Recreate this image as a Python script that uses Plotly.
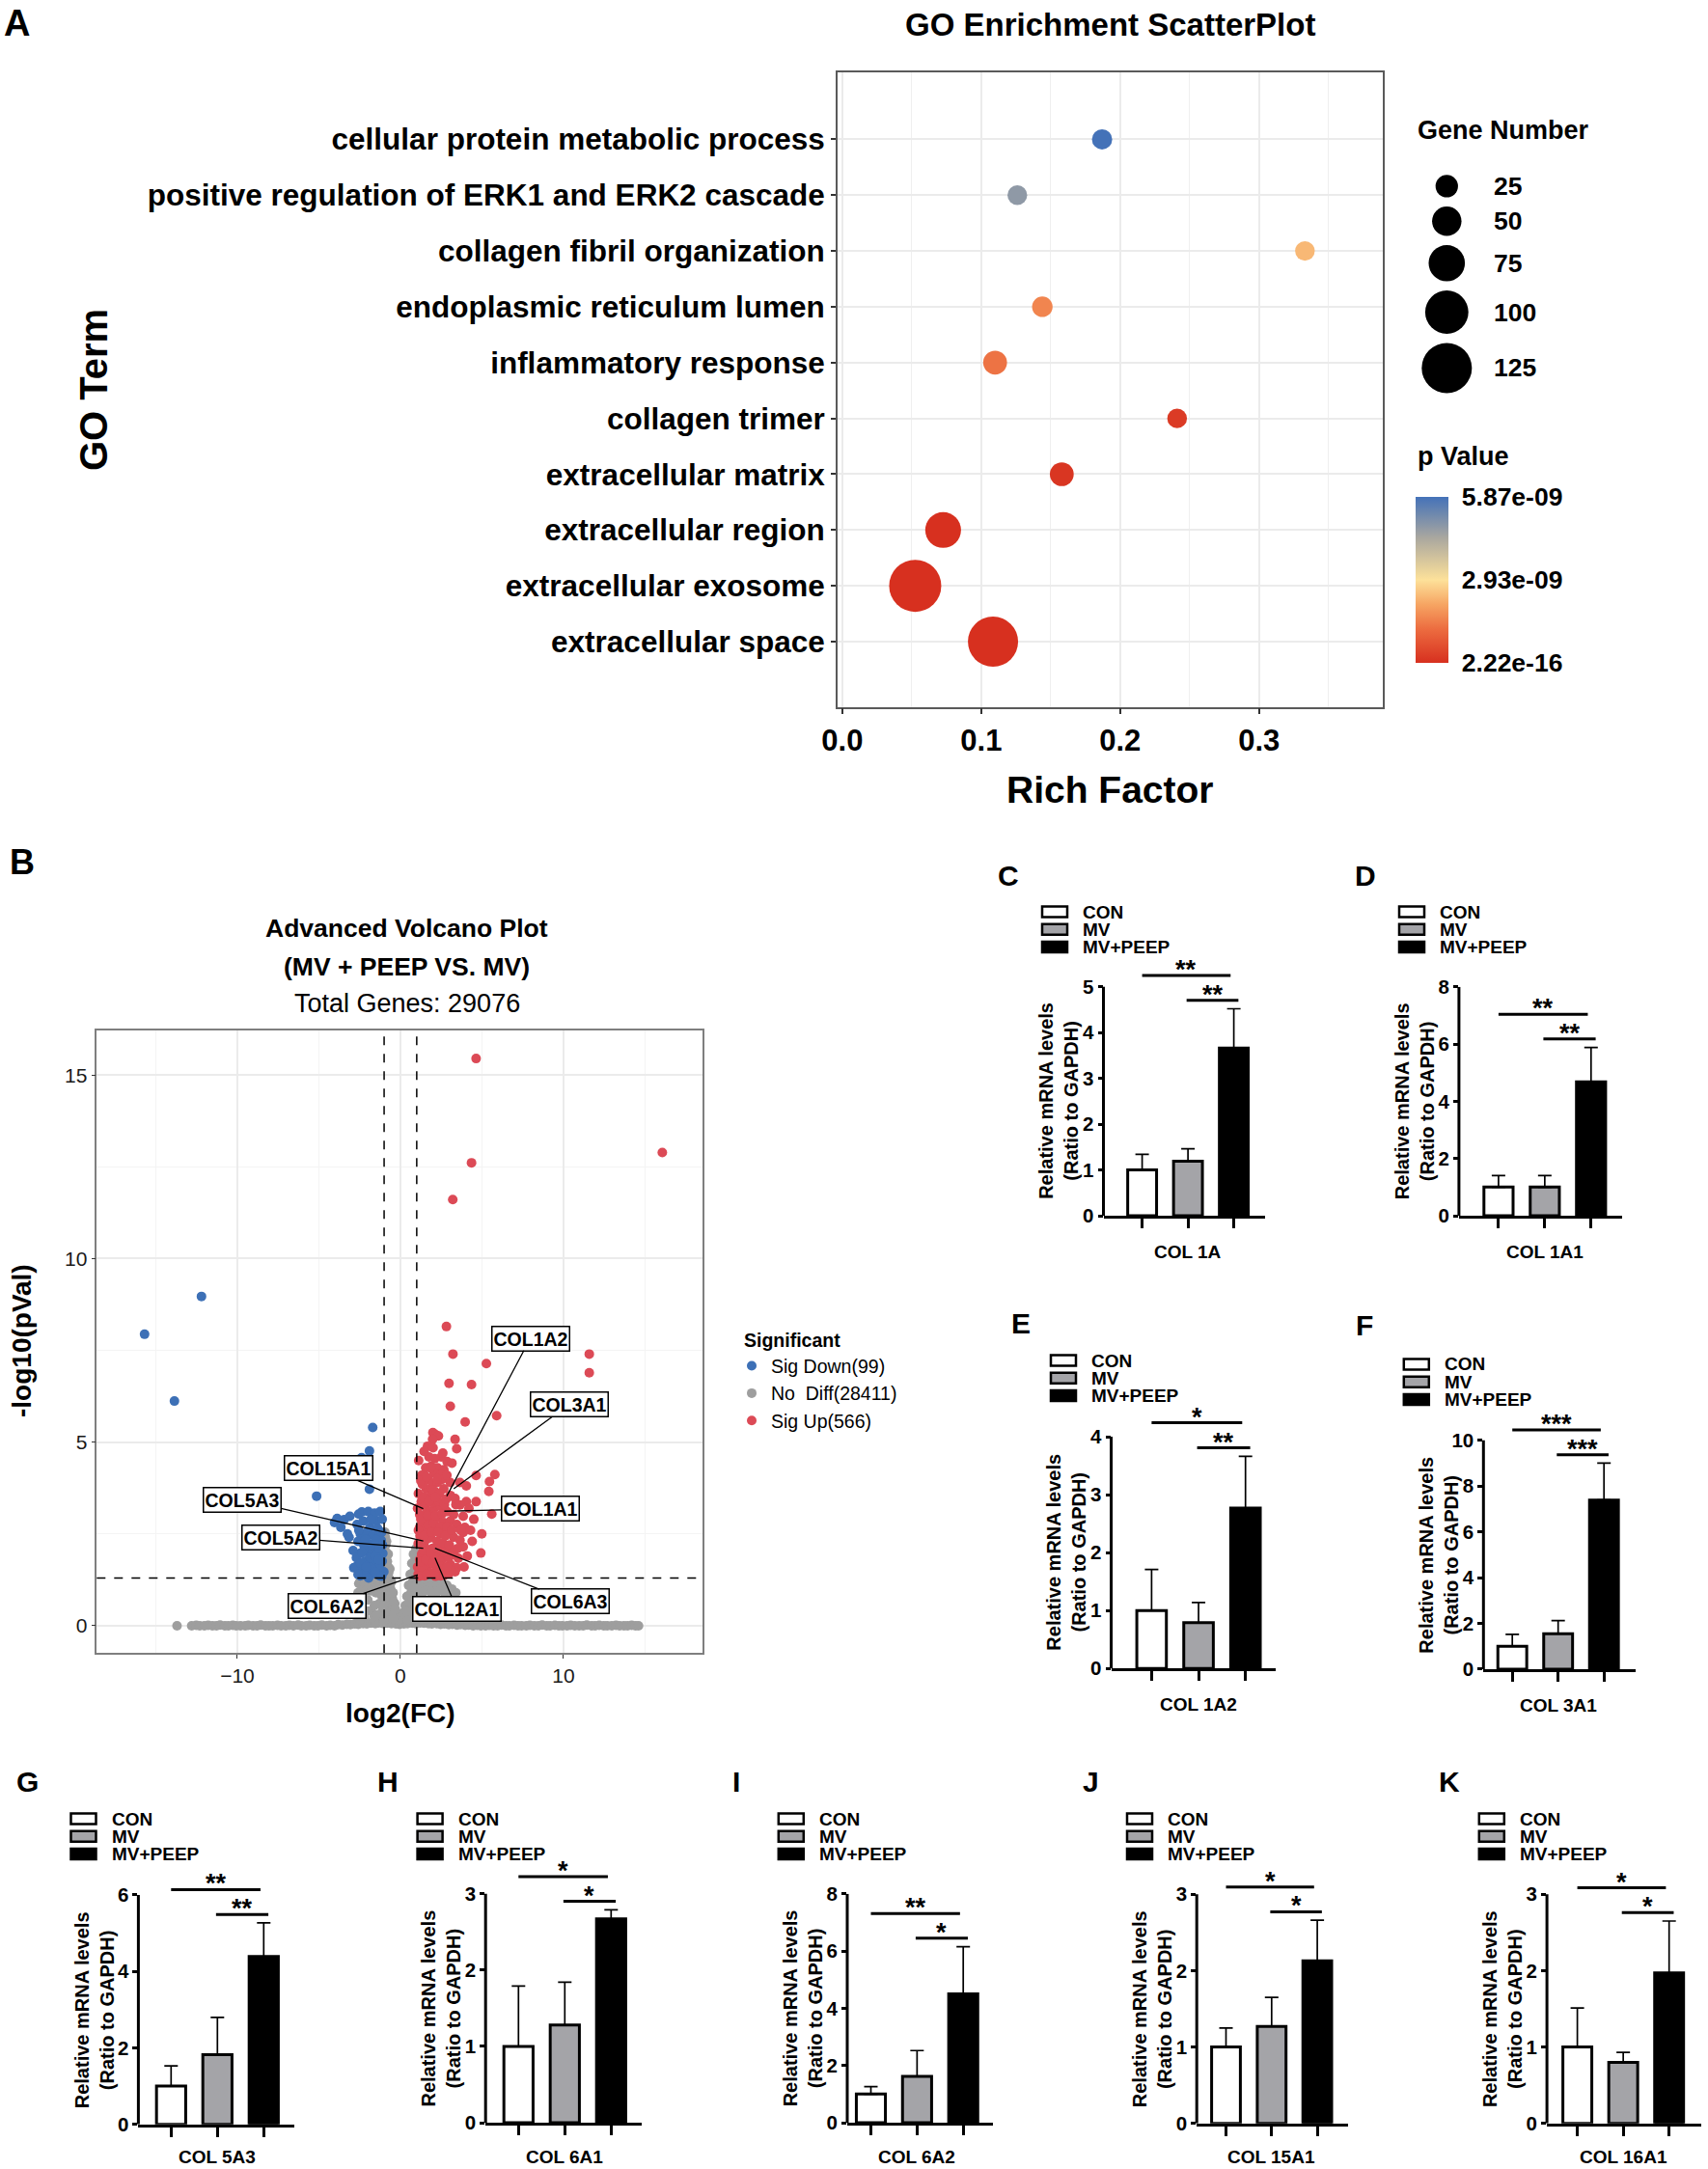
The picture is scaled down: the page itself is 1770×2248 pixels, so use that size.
import plotly.graph_objects as go

# ======================= DATA =======================
# ---- Panel A : GO enrichment ----
go_terms = ["cellular protein metabolic process",
            "positive regulation of ERK1 and ERK2 cascade",
            "collagen fibril organization",
            "endoplasmic reticulum lumen",
            "inflammatory response",
            "collagen trimer",
            "extracellular matrix",
            "extracellular region",
            "extracellular exosome",
            "extracellular space"]
rich_factor = [0.187, 0.126, 0.333, 0.144, 0.110, 0.241, 0.158, 0.0726, 0.0525, 0.1085]
gene_number = [17, 15, 15, 18, 30, 15, 30, 73, 132, 125]
p_value = [5.87e-09, 4.8e-09, 2.35e-09, 1.58e-09, 1.29e-09, 2.1e-10, 1.2e-10, 3.5e-12, 2.22e-16, 4.6e-14]
size_breaks = [25, 50, 75, 100, 125]
p_tickvals = [2.22e-16, 2.93e-09, 5.87e-09]
p_ticktext = ["2.22e-16", "2.93e-09", "5.87e-09"]

# ---- Panel B : volcano ----
total_genes = 29076
n_down, n_nodiff, n_up = 99, 28411, 566
fc_cut = 1.0
p_cut = 1.301
down_x = [-15.69, -13.86, -12.2, -1.7, -1.9, -2.38, -1.9, -5.14,
          -2.56, -2.37, -1.97, -1.58, -1.24, -3.88, -3.45, -3.1, -4.04, -3.65, -3.25, -3.15,
          -2.66, -2.27, -1.87, -1.48, -1.12, -2.46, -2.07, -1.68, -1.28, -1.97, -1.58, -1.18,
          -2.46, -2.07, -1.68, -1.38, -1.08, -2.66, -2.17, -1.77, -1.48, -1.12,
          -2.46, -2.07, -1.68, -1.28, -1.02, -2.86, -2.3, -1.9, -1.3, -2.25, -1.4, -1.85,
          -2.6, -1.15, -2.9, -1.55, -2.0,
          -2.7, -2.45, -2.2, -1.95, -1.75, -1.55, -1.35, -1.15, -2.35, -2.15, -1.75, -1.5,
          -1.3, -1.1, -2.55, -1.8, -1.4, -2.1, -2.6]
down_y = [7.94, 6.12, 8.97, 5.4, 4.76, 4.58, 3.72, 3.53,
          3.04, 3.1, 3.11, 3.07, 3.11, 2.92, 2.89, 2.98, 2.81, 2.68, 2.5, 2.41,
          2.76, 2.85, 2.68, 2.85, 2.9, 2.5, 2.54, 2.46, 2.5, 2.24, 2.24, 2.33,
          1.97, 2.02, 2.02, 1.97, 1.97, 1.63, 1.76, 1.8, 1.71, 1.76,
          1.36, 1.45, 1.41, 1.36, 1.47, 1.58, 1.55, 1.6, 1.6, 2.2, 2.15, 1.85,
          2.3, 2.55, 2.05, 1.9, 1.35,
          1.85, 1.7, 1.45, 1.3, 1.55, 1.45, 1.8, 1.35, 2.0, 2.35, 2.2, 2.35,
          2.1, 2.2, 2.6, 2.9, 2.65, 1.6, 1.4]
# genes with p close to 1 (band along -log10(p) = 0)
base_x = [-13.7, -12.8, -12.52, -12.31, -12.02, -11.79, -11.53, -11.28, -11.06, -10.77, -10.55,
          -10.28, -10.07, -9.81, -9.52, -9.33, -9.04, -8.79, -8.57, -8.28, -8.06, -7.83, -7.54,
          -7.32, -7.03, -6.81, -6.56, -6.27, -6.08, -5.78, -5.57, -5.29, -5.06, -4.82, -4.53,
          -4.31, -4.04, -3.82, -3.56, -3.28, -3.07, -2.79, -2.58, -2.29, -2.06, -1.81, -1.54,
          -1.32, -1.04, -0.82, -0.55, -0.28, -0.06, 0.21, 0.43, 0.72, 0.94, 1.21, 1.44, 1.72,
          1.93, 2.22, 2.46, 2.69, 2.96, 3.18, 3.47, 3.69, 3.97, 4.18, 4.46, 4.71, 4.93, 5.22,
          5.44, 5.71, 5.96, 6.19, 6.47, 6.68, 6.97, 7.21, 7.43, 7.72, 7.94, 8.21, 8.46, 8.69,
          8.97, 9.18, 9.47, 9.71, 9.93, 10.22, 10.44, 10.69, 10.96, 11.21, 11.43, 11.72, 11.94,
          12.19, 12.47, 12.68, 12.96, 13.22, 13.44, 13.71, 13.93, 14.18, 14.41, 14.6]
base_y = [0.0, 0.0, 0.01, 0.0, 0.0, 0.01, 0.0, 0.0, 0.02, 0.0, 0.0,
          0.01, 0.0, 0.0, 0.0, 0.01, 0.0, 0.0, 0.02, 0.0, 0.0, 0.0, 0.01,
          0.0, 0.0, 0.01, 0.0, 0.02, 0.0, 0.0, 0.01, 0.0, 0.0, 0.02, 0.0,
          0.01, 0.0, 0.03, 0.02, 0.04, 0.03, 0.05, 0.04, 0.06, 0.05, 0.07, 0.06,
          0.08, 0.06, 0.07, 0.06, 0.05, 0.04, 0.05, 0.06, 0.07, 0.06, 0.08, 0.07, 0.06,
          0.05, 0.06, 0.04, 0.05, 0.03, 0.04, 0.02, 0.03, 0.01, 0.02, 0.0, 0.01, 0.0, 0.0,
          0.01, 0.0, 0.0, 0.02, 0.0, 0.0, 0.01, 0.0, 0.0, 0.0, 0.01, 0.0, 0.0, 0.02,
          0.0, 0.0, 0.01, 0.0, 0.0, 0.0, 0.01, 0.0, 0.0, 0.0, 0.02, 0.0, 0.0,
          0.01, 0.0, 0.0, 0.0, 0.01, 0.0, 0.0, 0.0, 0.01, 0.0, 0.0]
nodiff_x = [-2.6, -2.2, -1.7, -1.1, -2.45, -2.0, -1.5, -1.3, -1.8, -1.1, -2.4, -0.95, -1.6, -2.2,
            -0.95, -0.9, -0.85, -0.75, -0.7, -0.6, -0.5, -0.4, -0.3, -0.95, -0.9, -0.85, -0.75,
            -0.65, -0.95, -0.9, -0.2, -0.55,
            0.95, 0.9, 0.85, 0.75, 0.65, 0.55, 0.45, 0.35, 0.95, 0.9, 0.8, 0.95, 0.25, 0.6,
            1.28, 1.88, 2.47, 3.06, 3.35, 1.4, 2.0, 2.5, 1.2, 3.0, 1.8, 1.1, 2.2, 1.5, 0.1, -0.1,
            -0.15, 0.15, -0.35, 0.3, -0.45, 0.4, -0.55, 0.5, -0.65, 0.6, -0.75, 0.7, -0.85, 0.8,
            -0.8, 0.85, -0.6, 0.65, -0.98, 0.98, -0.98, 0.98, -1.3, -1.9, -2.3, -1.6, -2.0, -1.4,
            1.3, 1.7, 2.2, 2.8, 1.6, 2.1, 2.6, 3.2, -2.8, -2.5, -1.0, 1.0, 0.45, -0.45,
            -2.55, -2.25, -1.95, -1.65, -1.35, -1.15, -2.4, -2.05, -1.75, -1.45, -1.2, -0.98,
            -0.98, -1.05, 1.05, 1.35, 1.65, 1.95, 2.25, 2.55, 2.85, 3.15, 1.2, 1.55, 1.9, 2.35,
            2.7, 3.4, -0.92, -0.88, -0.8, -0.72, -0.62, -0.52, -0.42, -0.32, 0.92, 0.86, 0.78,
            0.7, 0.6, 0.5, 0.4]
nodiff_y = [0.9, 1.1, 1.2, 1.27, 1.25, 0.7, 0.9, 0.6, 0.4, 0.4, 0.5, 0.95, 0.25, 0.2,
            2.55, 2.2, 1.9, 1.6, 1.3, 1.0, 0.75, 0.5, 0.35, 1.7, 1.2, 0.9, 0.6,
            0.4, 0.6, 0.35, 0.2, 0.2,
            2.1, 1.8, 1.5, 1.2, 0.9, 0.65, 0.45, 0.3, 1.2, 0.8, 0.55, 0.5, 0.15, 0.25,
            1.1, 1.1, 1.01, 0.84, 0.75, 0.7, 0.8, 0.5, 0.45, 0.4, 0.35, 0.95, 0.3, 0.2, 0.12, 0.15,
            0.3, 0.35, 0.6, 0.55, 0.9, 0.8, 1.2, 1.1, 1.55, 1.4, 1.95, 1.7, 2.3, 1.95,
            1.1, 1.0, 0.55, 0.5, 2.0, 1.6, 1.4, 0.85, 1.0, 0.95, 0.8, 0.55, 0.4, 0.3,
            0.85, 1.0, 0.9, 0.7, 0.5, 0.6, 0.3, 0.25, 0.3, 0.15, 0.15, 0.2, 0.15, 0.2,
            1.15, 1.2, 1.18, 1.22, 1.15, 1.05, 0.95, 1.0, 0.95, 1.0, 0.85, 1.1,
            0.75, 0.55, 1.2, 1.22, 1.18, 1.2, 1.15, 1.18, 1.1, 1.0, 1.05, 0.95, 0.9, 0.95,
            0.9, 0.9, 2.4, 2.0, 1.75, 1.45, 1.15, 0.9, 0.65, 0.45, 1.95, 1.65, 1.35,
            1.05, 0.8, 0.6, 0.4]
up_x = [4.64, 4.36, 3.21, 16.06, 11.58, 11.58, 2.82, 3.22, 5.27, 2.98, 4.36, 3.06, 5.9, 3.97,
        1.99, 2.17, 2.33, 1.97, 3.35, 3.45, 2.86, 3.16, 1.88, 2.27, 2.66, 2.07, 2.47, 4.64,
        5.79, 5.46, 5.42, 4.64, 5.6, 4.99, 4.93, 3.85, 3.95, 3.85, 3.85, 1.66, 1.75, 2.5,
        1.68, 1.97, 2.27, 2.56, 3.06, 3.65, 4.04, 1.58, 1.88, 2.17, 2.66, 3.06, 3.35, 4.04, 3.65,
        1.28, 1.48, 1.78, 2.07, 2.47, 2.86, 3.26, 1.18, 1.48, 1.88, 2.27, 2.66, 3.06, 3.45,
        1.18, 1.58, 2.07, 2.47, 2.86, 3.26, 3.65, 1.09, 1.48, 1.97, 2.37, 2.76, 3.16, 3.55,
        1.18, 1.68, 2.17, 2.66, 3.06, 3.45, 1.09, 1.48, 1.97, 2.47, 2.96, 3.35,
        1.05, 1.35, 1.8, 2.3, 2.8, 1.3, 1.75, 2.15, 2.55, 2.95, 1.2, 1.6, 1.85, 2.25, 2.6, 3.0,
        1.35, 1.7, 2.05, 2.45, 2.85, 1.05, 1.6, 1.95, 2.3, 2.7, 1.1, 1.35, 2.0, 2.4,
        1.3, 1.55, 2.85, 1.12, 2.1, 1.45, 2.0, 2.6, 4.2, 4.3, 4.5, 3.9, 4.1, 4.4,
        1.15, 1.6, 2.15, 2.7, 3.1, 1.25, 1.55, 2.0, 2.45, 2.85, 1.4, 1.85, 2.25, 2.65, 3.25,
        1.1, 1.45, 1.9, 2.3, 2.75, 3.15, 1.25, 1.65, 2.15, 2.55, 1.45, 1.75, 2.15, 2.8,
        1.25, 1.85, 2.25, 1.6, 3.5, 3.7, 3.4]
up_y = [15.45, 12.61, 11.61, 12.89, 7.4, 6.89, 8.15, 7.4, 7.14, 6.6, 6.57, 5.98, 5.72, 5.55,
        5.26, 5.2, 5.17, 5.08, 5.08, 4.82, 4.47, 4.43, 4.34, 4.3, 4.25, 4.16, 4.12, 4.09,
        4.12, 3.93, 3.66, 3.38, 3.04, 2.5, 1.98, 2.98, 2.68, 2.54, 2.15, 4.89, 4.6, 4.6,
        3.99, 3.86, 3.9, 3.99, 3.9, 3.9, 3.81, 3.73, 3.55, 3.64, 3.73, 3.55, 3.47, 3.38, 3.29,
        3.38, 3.25, 3.11, 3.2, 3.25, 3.11, 3.03, 3.03, 2.9, 2.85, 2.94, 2.81, 2.85, 2.76,
        2.68, 2.59, 2.63, 2.5, 2.54, 2.41, 2.33, 2.24, 2.15, 2.11, 2.02, 2.06, 1.93, 1.84,
        1.8, 1.67, 1.63, 1.54, 1.67, 1.58, 1.41, 1.36, 1.41, 1.36, 1.41, 1.47,
        1.6, 1.55, 1.45, 1.5, 1.45, 1.95, 1.9, 1.85, 1.8, 1.85, 2.45, 2.35, 2.4, 2.3, 2.25, 2.2,
        2.8, 2.75, 2.8, 2.7, 2.7, 3.2, 3.05, 3.35, 3.4, 3.3, 3.6, 3.85, 3.7, 3.6,
        4.1, 4.3, 4.1, 4.5, 4.55, 4.75, 4.85, 4.7, 3.2, 2.6, 2.9, 1.6, 1.9, 2.3,
        1.35, 1.4, 1.35, 1.38, 1.5, 1.75, 1.8, 1.7, 1.62, 1.6, 2.05, 2.0, 2.1, 2.0, 2.0,
        2.6, 2.45, 2.55, 2.55, 2.45, 2.6, 2.9, 3.0, 3.0, 3.05, 3.5, 3.4, 3.5, 3.45,
        3.95, 4.3, 4.0, 4.05, 2.1, 2.6, 3.3]
label_genes = ["COL1A2", "COL3A1", "COL15A1", "COL1A1", "COL5A3", "COL5A2", "COL6A3", "COL6A2", "COL12A1"]
label_x = [2.84, 3.27, 1.40, 2.69, 1.40, 1.40, 2.12, 1.06, 2.12]
label_y = [3.53, 3.73, 3.19, 3.12, 2.31, 2.11, 2.11, 1.39, 1.85]
label_box_x = [7.97, 10.35, -4.39, 8.57, -9.70, -7.35, 10.44, -4.48, 3.47]
label_box_y = [7.83, 6.03, 4.29, 3.18, 3.44, 2.41, 0.66, 0.54, 0.45]

# ---- Panels C-K : qPCR ----
groups = ["CON", "MV", "MV+PEEP"]
qpcr_genes = ["COL 1A", "COL 1A1", "COL 1A2", "COL 3A1", "COL 5A3", "COL 6A1", "COL 6A2", "COL 15A1", "COL 16A1"]
con_mean = [1.0, 1.0, 1.0, 1.0, 1.0, 1.0, 1.0, 1.0, 1.0]
mv_mean = [1.19, 1.0, 0.79, 1.55, 1.82, 1.28, 1.62, 1.27, 0.80]
peep_mean = [3.66, 4.68, 2.77, 7.39, 4.39, 2.67, 4.50, 2.13, 1.97]
con_sd = [0.34, 0.40, 0.71, 0.52, 0.53, 0.79, 0.26, 0.25, 0.51]
mv_sd = [0.27, 0.40, 0.35, 0.57, 0.98, 0.56, 0.90, 0.38, 0.13]
peep_sd = [0.86, 1.20, 0.89, 1.61, 0.88, 0.12, 1.65, 0.53, 0.68]
sig_con_peep = ["**", "**", "*", "***", "**", "*", "**", "*", "*"]
sig_mv_peep = ["**", "**", "**", "***", "**", "*", "*", "*", "*"]

# ======================= LAYOUT HELPERS =======================
W, H = 1770, 2248
FONT = "Liberation Sans, Arial, Helvetica, sans-serif"


def PX(p):
    return p / W


def PY(p):
    return 1 - p / H


def font(size, bold=True, color="black"):
    return dict(family=FONT, size=size, color=color, weight="bold" if bold else "normal")


annotations = []
shapes = []


def label(txt, px, py, size, bold=True, xanchor="center", yanchor="middle", angle=0, color="black"):
    annotations.append(dict(text=txt, x=PX(px), y=PY(py), xref="paper", yref="paper",
                            xanchor=xanchor, yanchor=yanchor, showarrow=False, textangle=angle,
                            font=font(size, bold, color)))


fig = go.Figure()
layout = {}

# ======================= PANEL A =======================
A_left, A_right, A_top, A_bot = 867.8, 1432.5, 75.0, 732.7


def gene_size(n):
    return 16.1 + 0.287 * n


pscale = [[0.0, "#D7301F"], [0.2, "#EC6B3F"], [0.35, "#F6A462"], [0.5, "#FDE19A"],
          [0.75, "#ABA89F"], [1.0, "#4472B8"]]

fig.add_trace(go.Scatter(
    x=rich_factor, y=go_terms, mode="markers", xaxis="x", yaxis="y", showlegend=False,
    hoverinfo="skip",
    marker=dict(size=[gene_size(n) for n in gene_number], color=p_value, colorscale=pscale,
                cmin=min(p_tickvals), cmax=max(p_tickvals), line=dict(width=0), opacity=1,
                colorbar=dict(x=PX(1466.7), xanchor="left", xpad=0, y=PY(601), yanchor="middle",
                              ypad=0, len=172, lenmode="pixels", thickness=34, outlinewidth=0,
                              tickvals=p_tickvals, ticktext=p_ticktext, ticks="outside", ticklen=9,
                              tickcolor="rgba(0,0,0,0)", tickfont=font(26.5)))))

layout["xaxis"] = dict(domain=[PX(A_left), PX(A_right)], anchor="y", range=[-0.0035, 0.3887],
                       tick0=0, dtick=0.1, tickformat=".1f", showgrid=True, gridcolor="#EBEBEB",
                       gridwidth=1.5, minor=dict(tick0=0, dtick=0.05, showgrid=True,
                                                 gridcolor="#EFEFEF", gridwidth=1.2),
                       showline=True, mirror=True, linecolor="#5A5A5A", linewidth=1.5,
                       ticks="outside", ticklen=6, tickcolor="#333333", tickwidth=1.5,
                       tickfont=font(31), zeroline=False)
layout["yaxis"] = dict(domain=[PY(A_bot), PY(A_top)], anchor="x", type="category",
                       categoryorder="array", categoryarray=go_terms,
                       range=[len(go_terms) - 1 + 1.17, -1.2], showgrid=True, gridcolor="#EBEBEB",
                       gridwidth=1.5, showline=True, mirror=True, linecolor="#5A5A5A",
                       linewidth=1.5, ticks="outside", ticklen=5, tickcolor="#333333",
                       tickwidth=1.5, tickfont=font(31.5), zeroline=False)

# size legend on a pixel-unit helper axis
layout["xaxis3"] = dict(domain=[PX(1440), PX(1720)], range=[1440, 1720], anchor="y3", visible=False)
layout["yaxis3"] = dict(domain=[PY(420), PY(100)], range=[420, 100], anchor="x3", visible=False)
leg_d = [gene_size(n) for n in size_breaks]
leg_y = [192.9]
for k in range(1, len(size_breaks)):
    leg_y.append(leg_y[-1] + (leg_d[k - 1] + leg_d[k]) / 2 + 9.5)
fig.add_trace(go.Scatter(x=[1499.3] * len(size_breaks), y=leg_y, mode="markers", xaxis="x3",
                         yaxis="y3", showlegend=False, hoverinfo="skip",
                         marker=dict(size=leg_d, color="#000000", opacity=1, line=dict(width=0))))
for v, yy in zip(size_breaks, leg_y):
    annotations.append(dict(text=str(v), x=1546, y=yy, xref="x3", yref="y3", xanchor="left",
                            yanchor="middle", showarrow=False, font=font(26.5)))

label("GO Enrichment ScatterPlot", 1150, 26, 33)
label("Rich Factor", 1150, 818, 39)
label("GO Term", 97, 404, 40, angle=-90)
label("Gene Number", 1466.7, 134.8, 27, xanchor="left")
label("p Value", 1466.7, 473.5, 27, xanchor="left")
label("A", 2, 0.5, 38, xanchor="left", yanchor="top")

# ======================= PANEL B =======================
B_left, B_right, B_top, B_bot = 100.3, 727.6, 1067.8, 1713.3
vol_red, vol_blue, vol_grey = "#DC4A56", "#3D70B6", "#9E9E9E"
fig.add_trace(go.Scatter(x=base_x + nodiff_x, y=base_y + nodiff_y, mode="markers", xaxis="x2",
                         yaxis="y2", name="No\u00a0 Diff(%d)" % n_nodiff, legendrank=2,
                         hoverinfo="skip", marker=dict(size=10, color=vol_grey, line=dict(width=0))))
fig.add_trace(go.Scatter(x=down_x, y=down_y, mode="markers", xaxis="x2", yaxis="y2",
                         name="Sig Down(%d)" % n_down, legendrank=1, hoverinfo="skip",
                         marker=dict(size=10, color=vol_blue, line=dict(width=0))))
fig.add_trace(go.Scatter(x=up_x, y=up_y, mode="markers", xaxis="x2", yaxis="y2",
                         name="Sig Up(%d)" % n_up, legendrank=3, hoverinfo="skip",
                         marker=dict(size=10, color=vol_red, line=dict(width=0))))

layout["xaxis2"] = dict(domain=[PX(B_left), PX(B_right)], anchor="y2", range=[-18.62, 18.5],
                        tick0=0, dtick=10, showgrid=True, gridcolor="#EBEBEB", gridwidth=1.5,
                        minor=dict(tick0=0, dtick=5, showgrid=True, gridcolor="#F4F4F4", gridwidth=1),
                        showline=True, mirror=True, linecolor="#7F7F7F", linewidth=1.5,
                        ticks="outside", ticklen=4, tickcolor="#333333",
                        tickfont=font(21, False, "#1A1A1A"), zeroline=False)
layout["yaxis2"] = dict(domain=[PY(B_bot), PY(B_top)], anchor="x2", range=[-0.745, 16.22],
                        tick0=0, dtick=5, showgrid=True, gridcolor="#EBEBEB", gridwidth=1.5,
                        minor=dict(tick0=0, dtick=2.5, showgrid=True, gridcolor="#F4F4F4", gridwidth=1),
                        showline=True, mirror=True, linecolor="#7F7F7F", linewidth=1.5,
                        ticks="outside", ticklen=4, tickcolor="#333333",
                        tickfont=font(21, False, "#1A1A1A"), zeroline=False)
for xv in (-fc_cut, fc_cut):
    shapes.append(dict(type="line", xref="x2", yref="y2 domain", x0=xv, x1=xv, y0=0, y1=1,
                       line=dict(color="black", width=1.5, dash="dash")))
shapes.append(dict(type="line", xref="x2 domain", yref="y2", x0=0, x1=1, y0=p_cut, y1=p_cut,
                   line=dict(color="black", width=1.5, dash="dash")))
for g, tx, ty, bx, by in zip(label_genes, label_x, label_y, label_box_x, label_box_y):
    annotations.append(dict(text=g, x=tx, y=ty, xref="x2", yref="y2", ax=bx, ay=by,
                            axref="x2", ayref="y2", showarrow=True, arrowhead=0, arrowwidth=1.3,
                            arrowcolor="black", standoff=0, bgcolor="white", bordercolor="black",
                            borderwidth=1.5, borderpad=1, font=font(19.5)))

label("Advanced Volcano Plot", 421.8, 962, 26.5)
label("(MV + PEEP VS. MV)", 421.8, 1001.5, 26.5)
label("Total Genes: %d" % total_genes, 421.8, 1039.6, 27, bold=False)
label("log2(FC)", 415, 1775, 28)
label("-log10(pVal)", 22, 1390, 28, angle=-90)
label("B", 22.5, 893, 36)

# ======================= PANELS C-K =======================
bar_layout = [
    dict(letter="C", left=1143.5, right=1310.7, top=1022.7, bottom=1260.0, c0=1183.6, sp=47.5, ymax=5, dtick=1, leg=(1080.0, 945.0), lxy=(1045, 907)),
    dict(letter="D", left=1511.9, right=1681.3, top=1022.7, bottom=1260.0, c0=1552.9, sp=47.95, ymax=8, dtick=2, leg=(1450.0, 945.0), lxy=(1415, 907)),
    dict(letter="E", left=1151.5, right=1322.3, top=1489.0, bottom=1729.3, c0=1193.4, sp=48.65, ymax=4, dtick=1, leg=(1089.0, 1410.0), lxy=(1057.8, 1371.7)),
    dict(letter="F", left=1537.3, right=1694.7, top=1492.7, bottom=1730.0, c0=1567.2, sp=47.5, ymax=10, dtick=2, leg=(1454.8, 1414.0), lxy=(1413.7, 1373)),
    dict(letter="G", left=143.4, right=305.4, top=1964.0, bottom=2201.7, c0=177.3, sp=48.0, ymax=6, dtick=2, leg=(73.5, 1885.0), lxy=(28.9, 1846.7)),
    dict(letter="H", left=503.2, right=665.1, top=1962.7, bottom=2200.0, c0=537.3, sp=48.0, ymax=3, dtick=1, leg=(432.6, 1885.0), lxy=(401.5, 1846.7)),
    dict(letter="I", left=878.0, right=1029.1, top=1962.7, bottom=2200.0, c0=902.5, sp=47.85, ymax=8, dtick=2, leg=(806.8, 1885.0), lxy=(763, 1846.7)),
    dict(letter="J", left=1240.2, right=1396.6, top=1963.3, bottom=2200.7, c0=1270.5, sp=47.3, ymax=3, dtick=1, leg=(1168.0, 1885.0), lxy=(1130.4, 1846.7)),
    dict(letter="K", left=1603.1, right=1763.0, top=1963.3, bottom=2200.7, c0=1634.6, sp=47.55, ymax=3, dtick=1, leg=(1532.8, 1885.0), lxy=(1501.8, 1846.7)),
]
bar_fill = ["white", "#A4A4A8", "black"]

for i, L in enumerate(bar_layout):
    n = 4 + i
    xa, ya = "x%d" % n, "y%d" % n
    means = [con_mean[i], mv_mean[i], peep_mean[i]]
    sds = [con_sd[i], mv_sd[i], peep_sd[i]]
    top_max = max(m + s for m, s in zip(means, sds))
    lvl_mv = top_max + 0.037 * L["ymax"]
    lvl_con = top_max + 0.145 * L["ymax"]
    ppu = (L["bottom"] - L["top"]) / L["ymax"]
    ext = max(L["ymax"], lvl_con + 0.04 * L["ymax"])
    dom_top = L["bottom"] - ext * ppu

    fig.add_trace(go.Bar(x=groups, y=means, xaxis=xa, yaxis=ya, width=0.63, showlegend=False,
                         hoverinfo="skip",
                         marker=dict(color=bar_fill, line=dict(color="black", width=3)),
                         error_y=dict(type="data", symmetric=False, array=sds,
                                      arrayminus=[0, 0, 0], color="black", thickness=1.7,
                                      width=7)))
    layout["xaxis%d" % n] = dict(domain=[PX(L["left"]), PX(L["right"])], anchor=ya,
                                 type="category", categoryorder="array", categoryarray=groups,
                                 range=[(L["left"] - L["c0"]) / L["sp"], (L["right"] - L["c0"]) / L["sp"]],
                                 showline=True, linewidth=3, linecolor="black", ticks="outside",
                                 ticklen=10, tickwidth=2.5, tickcolor="black",
                                 showticklabels=False, showgrid=False, zeroline=False)
    layout["yaxis%d" % n] = dict(domain=[PY(L["bottom"]), PY(dom_top)], anchor=xa,
                                 range=[0, ext], tickvals=list(range(0, L["ymax"] + 1, L["dtick"])),
                                 ticks="outside", ticklen=5, tickwidth=2.5, tickcolor="black",
                                 tickfont=font(20.5), showline=False, showgrid=False, zeroline=False)
    # y-axis spine (stops at the top tick)
    shapes.append(dict(type="line", xref="%s domain" % xa, yref=ya, x0=0, x1=0, y0=0,
                       y1=L["ymax"], line=dict(color="black", width=3)))
    # significance bars
    for (x0, x1, lvl, txt) in [(0.0, 1.93, lvl_con, sig_con_peep[i]),
                               (0.97, 2.1, lvl_mv, sig_mv_peep[i])]:
        shapes.append(dict(type="line", xref=xa, yref=ya, x0=x0, x1=x1, y0=lvl, y1=lvl,
                           line=dict(color="black", width=3)))
        annotations.append(dict(text=txt, x=(x0 + x1) / 2, y=lvl, xref=xa, yref=ya,
                                xanchor="center", yanchor="bottom", yshift=-11,
                                showarrow=False, font=font(27)))
    # group legend
    lx, ly = L["leg"]
    for k, g in enumerate(groups):
        cy = ly + k * 18.3
        shapes.append(dict(type="rect", xref="paper", yref="paper", x0=PX(lx), x1=PX(lx + 26),
                           y0=PY(cy + 5.5), y1=PY(cy - 5.5), fillcolor=bar_fill[k],
                           line=dict(color="black", width=2.5)))
        label(g, lx + 40, cy, 19, xanchor="left")
    if L["bottom"] + 37.5 + 13 < H:
        label(qpcr_genes[i], L["c0"] + L["sp"], L["bottom"] + 37.5, 19)
    else:
        label(qpcr_genes[i], L["c0"] + L["sp"], H - 0.5, 19, yanchor="bottom")
    label("Relative mRNA levels<br>(Ratio to GAPDH)", L["left"] - 46,
          (L["top"] + L["bottom"]) / 2, 20, angle=-90)
    label(L["letter"], L["lxy"][0], L["lxy"][1], 30)

fig.update_layout(
    width=W, height=H, margin=dict(l=0, r=0, t=0, b=0, autoexpand=False),
    paper_bgcolor="white", plot_bgcolor="white", font=dict(family=FONT, color="black"),
    annotations=annotations, shapes=shapes,
    legend=dict(x=PX(769), y=PY(1371), xanchor="left", yanchor="top", indentation=-10,
                title=dict(text="Significant", font=font(19.5)), font=font(19.5, False),
                bgcolor="rgba(0,0,0,0)", traceorder="normal", itemsizing="trace"),
    **layout)

fig.write_html("out.html", config={"displayModeBar": False},
               post_script="document.body.style.margin='0px';document.body.style.overflow='hidden';")
